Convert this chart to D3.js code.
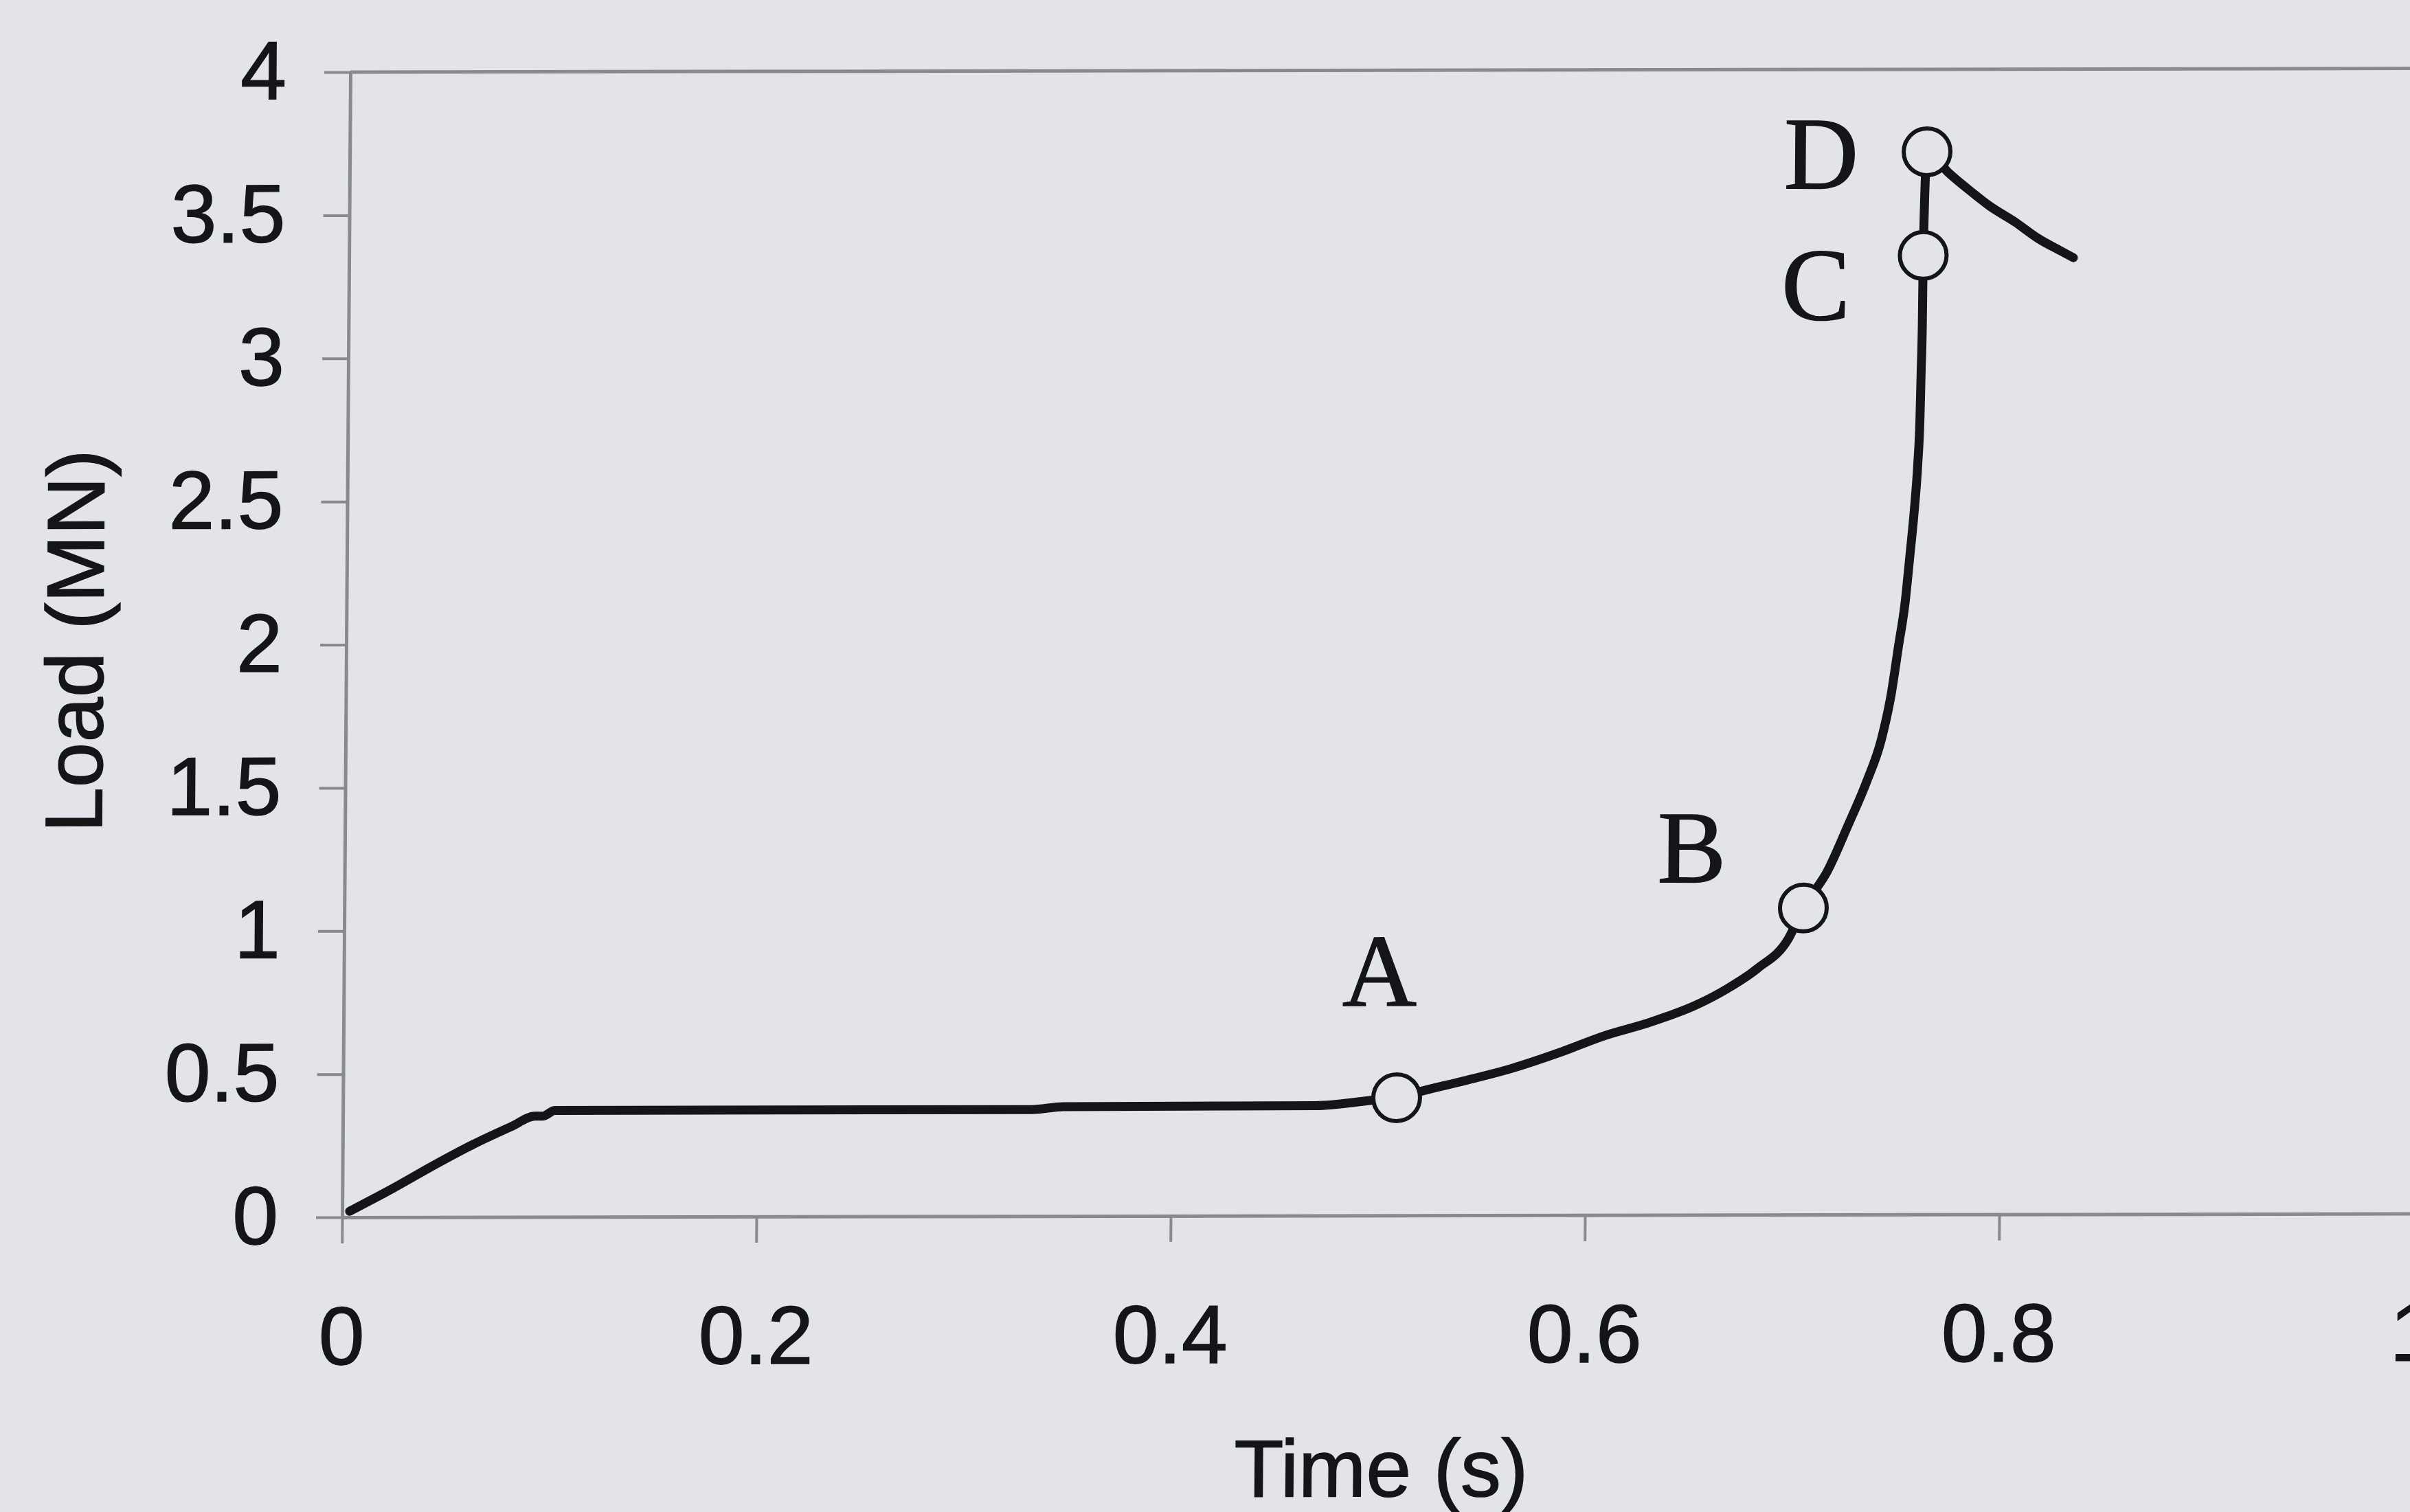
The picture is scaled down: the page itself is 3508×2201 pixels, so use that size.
<!DOCTYPE html>
<html>
<head>
<meta charset="utf-8">
<script src="https://cdn.jsdelivr.net/npm/d3@7"></script>
<style>
  html, body { margin: 0; padding: 0; background: #e3e3ea; }
  svg { display: block; }
</style>
</head>
<body>
<svg id="chart" width="3508" height="2201"></svg>
<script>
// Load history of the test: time in seconds, load in meganewtons
const timeS = [0.0036, 0.0245, 0.0438, 0.0625, 0.0814, 0.0928, 0.0965, 0.1023, 0.3326, 0.3479,
               0.4697, 0.4964, 0.5087, 0.5213, 0.5421, 0.5643, 0.5865, 0.6087, 0.6308, 0.653,
               0.6675, 0.6824, 0.6972, 0.7044, 0.7159, 0.7257, 0.7344, 0.7415, 0.7461, 0.7493,
               0.7525, 0.7546, 0.7566, 0.7581, 0.759, 0.7594, 0.7598, 0.760, 0.7615, 0.772,
               0.7821, 0.7919, 0.8042, 0.8153, 0.8263, 0.8325];
const loadMN = [0.021, 0.101, 0.180, 0.252, 0.316, 0.352, 0.352, 0.372, 0.372, 0.382,
                0.384, 0.402, 0.411, 0.435, 0.471, 0.513, 0.566, 0.626, 0.673, 0.733,
                0.788, 0.860, 0.963, 1.071, 1.200, 1.360, 1.510, 1.660, 1.819, 1.979,
                2.140, 2.301, 2.462, 2.622, 2.783, 2.944, 3.105, 3.350, 3.712, 3.638,
                3.577, 3.522, 3.466, 3.409, 3.365, 3.341];

// Marked stages of the load history (index into the series above)
const stageNames = ["A", "B", "C", "D"];
const stageIndex = [12, 23, 37, 38];

// Axis ticks
const xTickValues = [0, 0.2, 0.4, 0.6, 0.8, 1];
const xTickLabels = ["0", "0.2", "0.4", "0.6", "0.8", "1"];
const yTickValues = [0, 0.5, 1, 1.5, 2, 2.5, 3, 3.5, 4];
const yTickLabels = ["0", "0.5", "1", "1.5", "2", "2.5", "3", "3.5", "4"];

const xTitle = "Time (s)";
const yTitle = "Load (MN)";

// ---- layout ----
const layout = {
  left: 498, right: 3513, top: 105, bottom: 1772,
  tickLen: 38,
  // offsets of each stage letter (centre, baseline) from its marker
  stageLabelOffset: { A: [-26, -134], B: [-163, -38], C: [-156, 93], D: [-154, 53] },
  // slight shear of the whole drawing
  shearX: -0.0072, shearY: -0.0018
};

const axisColor = "#8a8a8c";
const inkColor = "#151518";
const bgColor = "#e3e3ea";
const sansFont = "'Liberation Sans', Arial, Helvetica, sans-serif";
const serifFont = "'Liberation Serif', 'Times New Roman', serif";

const svg = d3.select("#chart");
svg.append("rect").attr("width", 3508).attr("height", 2201).attr("fill", bgColor);

const x = d3.scaleLinear().domain([0, 1]).range([layout.left, layout.right]);
const y = d3.scaleLinear().domain([0, 4]).range([layout.bottom, layout.top]);

const e = -layout.shearX * layout.bottom;
const f = -layout.shearY * layout.left;
const g = svg.append("g")
  .attr("transform", `matrix(1, ${layout.shearY}, ${layout.shearX}, 1, ${e}, ${f})`);

// plot-area top border
g.append("line")
  .attr("x1", x(0)).attr("x2", x(1))
  .attr("y1", y(4)).attr("y2", y(4))
  .attr("stroke", axisColor).attr("stroke-width", 5);

// y axis
const yAxis = d3.axisLeft(y)
  .tickValues(yTickValues)
  .tickFormat((d, i) => yTickLabels[i])
  .tickSize(layout.tickLen)
  .tickSizeOuter(0)
  .tickPadding(55);
const yg = g.append("g").attr("transform", `translate(${x(0)},0)`).call(yAxis);

// x axis
const xAxis = d3.axisBottom(x)
  .tickValues(xTickValues)
  .tickFormat((d, i) => xTickLabels[i])
  .tickSize(layout.tickLen)
  .tickSizeOuter(0)
  .tickPadding(91);
const xg = g.append("g").attr("transform", `translate(0,${y(0)})`).call(xAxis);

[yg, xg].forEach(ax => {
  ax.select(".domain").attr("stroke", axisColor).attr("stroke-width", 5);
  ax.selectAll(".tick line").attr("stroke", axisColor).attr("stroke-width", 4);
  ax.selectAll(".tick text")
    .attr("fill", inkColor)
    .attr("stroke", inkColor)
    .attr("stroke-width", 1.5)
    .style("font-family", sansFont)
    .style("font-size", "120px");
});

// axis titles
g.append("text")
  .attr("x", 2013).attr("y", 2181)
  .attr("text-anchor", "middle")
  .attr("fill", inkColor)
  .attr("stroke", inkColor).attr("stroke-width", 1.5)
  .style("font-family", sansFont).style("font-size", "118px")
  .text(xTitle);

g.append("text")
  .attr("transform", `translate(144, ${(y(0) + y(4)) / 2 - 6}) rotate(-90)`)
  .attr("text-anchor", "middle")
  .attr("fill", inkColor)
  .attr("stroke", inkColor).attr("stroke-width", 1.5)
  .style("font-family", sansFont).style("font-size", "118px")
  .text(yTitle);

// load curve
const series = timeS.map((t, i) => ({ t, load: loadMN[i] }));
const line = d3.line()
  .x(d => x(d.t))
  .y(d => y(d.load))
  .curve(d3.curveMonotoneX);

g.append("path")
  .datum(series)
  .attr("d", line)
  .attr("fill", "none")
  .attr("stroke", inkColor)
  .attr("stroke-width", 13)
  .attr("stroke-linecap", "round")
  .attr("stroke-linejoin", "round");

// stage markers and letters
const stages = stageNames.map((name, i) => ({ name, ...series[stageIndex[i]] }));

g.selectAll("circle.stage")
  .data(stages)
  .join("circle")
  .attr("class", "stage")
  .attr("cx", d => x(d.t))
  .attr("cy", d => y(d.load))
  .attr("r", 34)
  .attr("fill", bgColor)
  .attr("stroke", inkColor)
  .attr("stroke-width", 6);

g.selectAll("text.stage")
  .data(stages)
  .join("text")
  .attr("class", "stage")
  .attr("x", d => x(d.t) + layout.stageLabelOffset[d.name][0])
  .attr("y", d => y(d.load) + layout.stageLabelOffset[d.name][1])
  .attr("text-anchor", "middle")
  .attr("fill", inkColor)
  .attr("stroke", inkColor)
  .attr("stroke-width", 1.5)
  .style("font-family", serifFont)
  .style("font-size", "150px")
  .text(d => d.name);
</script>
</body>
</html>
